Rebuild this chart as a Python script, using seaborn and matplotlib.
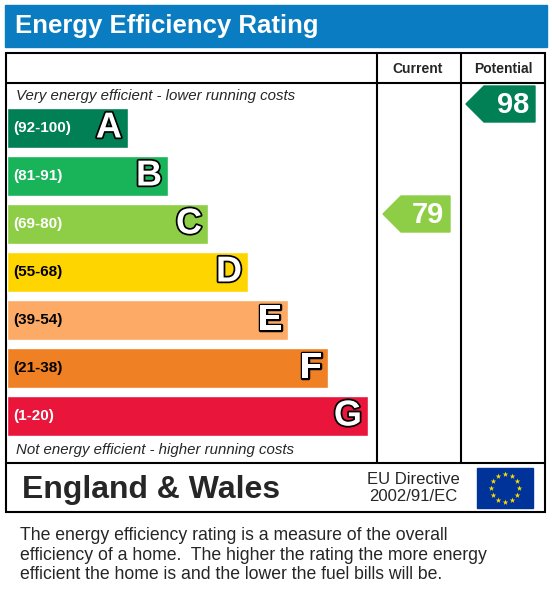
import numpy as np
import pandas as pd
import matplotlib
matplotlib.use("Agg")
import matplotlib.pyplot as plt
import matplotlib.patheffects as pe
from matplotlib.patches import Rectangle, Polygon
import seaborn as sns

# Datos
bands = ["A", "B", "C", "D", "E", "F", "G"]
ranges = ["(92-100)", "(81-91)", "(69-80)", "(55-68)", "(39-54)", "(21-38)", "(1-20)"]
lengths = [121, 161, 201, 241, 281, 321, 361]
colors = ["#008054", "#19b459", "#8dce46", "#ffd500", "#fcaa65", "#ef8023", "#e9153b"]
current = 79
potential = 98
current_band = 2
potential_band = 0

W, H = 552, 613
fig = plt.figure(figsize=(W / 100, H / 100), dpi=100)
sns.set_style("white")
plt.rcParams['font.family'] = ['Liberation Sans', 'DejaVu Sans']

# Fondo en pixeles
bg = fig.add_axes([0, 0, 1, 1])
bg.set_xlim(0, W)
bg.set_ylim(H, 0)
bg.axis("off")

bg.add_patch(Rectangle((5, 5), 542, 42, color="#0a7dc2"))
bg.text(15, 26, "Energy Efficiency Rating", color="white", fontsize=18.5, fontweight="bold", va="center")

lw = 1.5
bg.add_patch(Rectangle((6, 53), 539, 459, fill=False, ec="black", lw=lw))
bg.plot([6, 545], [83, 83], color="black", lw=lw)
bg.plot([6, 545], [463, 463], color="black", lw=lw)
bg.plot([377, 377], [53, 463], color="black", lw=lw)
bg.plot([461, 461], [53, 463], color="black", lw=lw)
bg.text(418, 69, "Current", fontsize=10, fontweight="bold", ha="center", va="center")
bg.text(503, 69, "Potential", fontsize=10, fontweight="bold", ha="center", va="center")
bg.text(16, 96, "Very energy efficient - lower running costs", fontsize=10.8, style="italic", va="center")
bg.text(16, 450, "Not energy efficient - higher running costs", fontsize=10.8, style="italic", va="center")

bg.text(22, 490, "England & Wales", fontsize=23, fontweight="bold", va="center")
bg.text(413, 488, "EU Directive\n2002/91/EC", fontsize=12, ha="center", va="center", linespacing=1.1)
bg.add_patch(Rectangle((477, 468), 56, 40, color="#003399"))
ang = np.linspace(0, 2 * np.pi, 12, endpoint=False)
bg.scatter(505 + 14 * np.cos(ang), 488 + 14 * np.sin(ang), marker="*", s=18, color="#ffdd00", lw=0)

desc = ("The energy efficiency rating is a measure of the overall\n"
        "efficiency of a home.  The higher the rating the more energy\n"
        "efficient the home is and the lower the fuel bills will be.")
bg.text(20, 555, desc, fontsize=12.7, va="center", linespacing=1.22)

# Barras
df = pd.DataFrame({"band": bands, "length": lengths})
ax = fig.add_axes([7 / W, 1 - 440 / H, 370 / W, 336 / H])
sns.barplot(data=df, x="length", y="band", hue="band", palette=colors, legend=False,
            width=40 / 48, saturation=1, ax=ax)
ax.set_xlim(0, 370)
ax.set_ylim(6.5, -0.5)
ax.axis("off")
ax.patch.set_alpha(0)
for i, (b, r, L) in enumerate(zip(bands, ranges, lengths)):
    tc = "white" if i in (0, 1, 2, 6) else "black"
    ax.text(6, i, r, color=tc, fontsize=11, fontweight="bold", va="center")
    ax.text(L - 6, i, b, color="white", fontsize=26, fontweight="bold", ha="right", va="center",
            path_effects=[pe.withStroke(linewidth=2.5, foreground="black")])

# Flechas (pixeles derivados de la banda)
def arrow(x0, x1, band, offset, val):
    yc = 128 + 48 * band + offset
    h = 18
    pts = [(x0, yc), (x0 + 18, yc - h), (x1, yc - h), (x1, yc + h), (x0 + 18, yc + h)]
    bg.add_patch(Polygon(pts, color=colors[band]))
    bg.text(x1 - 6, yc + 1, str(val), color="white", fontsize=21, fontweight="bold", ha="right", va="center")

arrow(383, 450, current_band, -10, current)
arrow(466, 535, potential_band, -24, potential)

fig.savefig("out.png", dpi=100)
